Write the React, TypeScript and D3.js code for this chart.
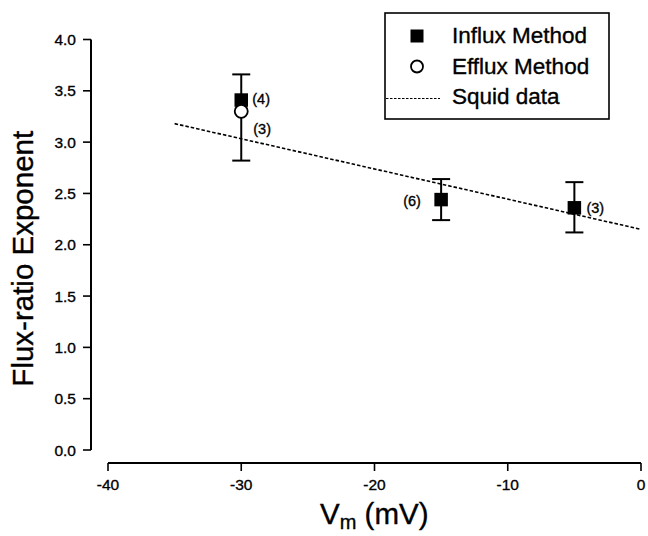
import React from "react";
import * as d3 from "d3";

const W = 648;
const H = 536;

const influxV = [-30, -15, -5];
const influxY = [3.41, 2.44, 2.36];
const influxErrUp = [0.25, 0.2, 0.25];
const influxErrDown = [0, 0.2, 0.24];
const influxN = ["(4)", "(6)", "(3)"];

const effluxV = [-30];
const effluxY = [3.3];
const effluxErrUp = [0];
const effluxErrDown = [0.48];
const effluxN = ["(3)"];

const squidV = [-35, 0];
const squidY = [3.18, 2.15];

const xTicks = [-40, -30, -20, -10, 0];
const yTicks = [0, 0.5, 1, 1.5, 2, 2.5, 3, 3.5, 4];

const legendLabels = ["Influx Method", "Efflux Method", "Squid data"];

const FONT = "'Liberation Sans', Arial, Helvetica, sans-serif";

export default function App() {
  const x = d3.scaleLinear().domain([-40, 0]).range([108, 641]);
  const y = d3.scaleLinear().domain([0, 4]).range([450, 39.5]);
  const yAxisX = 91;
  const xAxisY = 463;

  const line = d3
    .line<number>()
    .x((_, i) => x(squidV[i]))
    .y((d) => y(d));

  const capW = 9;
  const sq = 13.5;

  const labelOffsets = [
    { dx: 11, dy: 4 },
    { dx: -38, dy: 6 },
    { dx: 12, dy: 5 },
  ];

  const heavy = { stroke: "#000", strokeWidth: 0.35 };

  return (
    <svg
      width={W}
      height={H}
      style={{ position: "absolute", left: 0, top: 0, background: "#fff" }}
      fontFamily={FONT}
    >
      <rect x={0} y={0} width={W} height={H} fill="#fff" />
      {/* Y axis */}
      <line x1={yAxisX} x2={yAxisX} y1={y(4)} y2={y(0)} stroke="#000" strokeWidth={2} />
      {yTicks.map((t) => (
        <g key={"yt" + t}>
          <line x1={yAxisX - 8} x2={yAxisX} y1={y(t)} y2={y(t)} stroke="#000" strokeWidth={1.6} />
          <text x={76} y={y(t)} dy="0.36em" textAnchor="end" fontSize={15.5} {...heavy}>
            {t.toFixed(1)}
          </text>
        </g>
      ))}
      {/* X axis */}
      <line x1={x(-40)} x2={x(0)} y1={xAxisY} y2={xAxisY} stroke="#000" strokeWidth={2.2} />
      {xTicks.map((t) => (
        <g key={"xt" + t}>
          <line x1={x(t)} x2={x(t)} y1={xAxisY} y2={xAxisY + 8} stroke="#000" strokeWidth={1.6} />
          <text x={x(t)} y={490} textAnchor="middle" fontSize={15.5} {...heavy}>
            {t}
          </text>
        </g>
      ))}
      {/* Titles */}
      <text
        transform={`translate(33, ${(y(0) + y(4)) / 2 + 14}) rotate(-90)`}
        textAnchor="middle"
        fontSize={29.5}
        {...heavy}
      >
        Flux-ratio Exponent
      </text>
      <text x={320} y={524} fontSize={29.5} {...heavy}>
        V
        <tspan fontSize={20} dy={5}>m</tspan>
        <tspan dy={-5}> (mV)</tspan>
      </text>

      {/* Squid line */}
      <path
        d={line(squidY) || ""}
        fill="none"
        stroke="#000"
        strokeWidth={1.6}
        strokeDasharray="3.5,2"
      />

      {/* Error bars influx */}
      {influxV.map((v, i) => {
        const cx = x(v);
        const top = y(influxY[i] + influxErrUp[i]);
        const bot = y(influxY[i] - influxErrDown[i]);
        return (
          <g key={"ie" + i} stroke="#000" strokeWidth={2}>
            <line x1={cx} x2={cx} y1={top} y2={bot} />
            {influxErrUp[i] > 0 && <line x1={cx - capW} x2={cx + capW} y1={top} y2={top} />}
            {influxErrDown[i] > 0 && <line x1={cx - capW} x2={cx + capW} y1={bot} y2={bot} />}
          </g>
        );
      })}
      {effluxV.map((v, i) => {
        const cx = x(v);
        const top = y(effluxY[i] + effluxErrUp[i]);
        const bot = y(effluxY[i] - effluxErrDown[i]);
        return (
          <g key={"ee" + i} stroke="#000" strokeWidth={2}>
            <line x1={cx} x2={cx} y1={top} y2={bot} />
            {effluxErrUp[i] > 0 && <line x1={cx - capW} x2={cx + capW} y1={top} y2={top} />}
            {effluxErrDown[i] > 0 && <line x1={cx - capW} x2={cx + capW} y1={bot} y2={bot} />}
          </g>
        );
      })}

      {/* Influx squares */}
      {influxV.map((v, i) => (
        <rect
          key={"is" + i}
          x={x(v) - sq / 2}
          y={y(influxY[i]) - sq / 2}
          width={sq}
          height={sq}
          fill="#000"
        />
      ))}
      {/* Efflux circles */}
      {effluxV.map((v, i) => (
        <circle
          key={"ec" + i}
          cx={x(v)}
          cy={y(effluxY[i])}
          r={6.5}
          fill="#fff"
          stroke="#000"
          strokeWidth={1.8}
        />
      ))}

      {/* n labels */}
      {influxV.map((v, i) => (
        <text
          key={"in" + i}
          x={x(v) + labelOffsets[i].dx}
          y={y(influxY[i]) + labelOffsets[i].dy}
          fontSize={14.5}
          {...heavy}
        >
          {influxN[i]}
        </text>
      ))}
      {effluxV.map((v, i) => (
        <text key={"en" + i} x={x(v) + 12} y={y(effluxY[i]) + 23} fontSize={14.5} {...heavy}>
          {effluxN[i]}
        </text>
      ))}

      {/* Legend */}
      <rect x={385} y={13} width={224} height={106} fill="#fff" stroke="#000" strokeWidth={1.6} />
      <rect x={417 - 6.5} y={36 - 6.5} width={13} height={13} fill="#000" />
      <circle cx={417} cy={66.5} r={6} fill="#fff" stroke="#000" strokeWidth={1.8} />
      <line x1={386} x2={440} y1={98.5} y2={98.5} stroke="#000" strokeWidth={1.2} strokeDasharray="2.5,1.5" />
      {legendLabels.map((l, i) => (
        <text key={l} x={452} y={43 + i * 30.7} fontSize={22.5} {...heavy}>
          {l}
        </text>
      ))}
    </svg>
  );
}
